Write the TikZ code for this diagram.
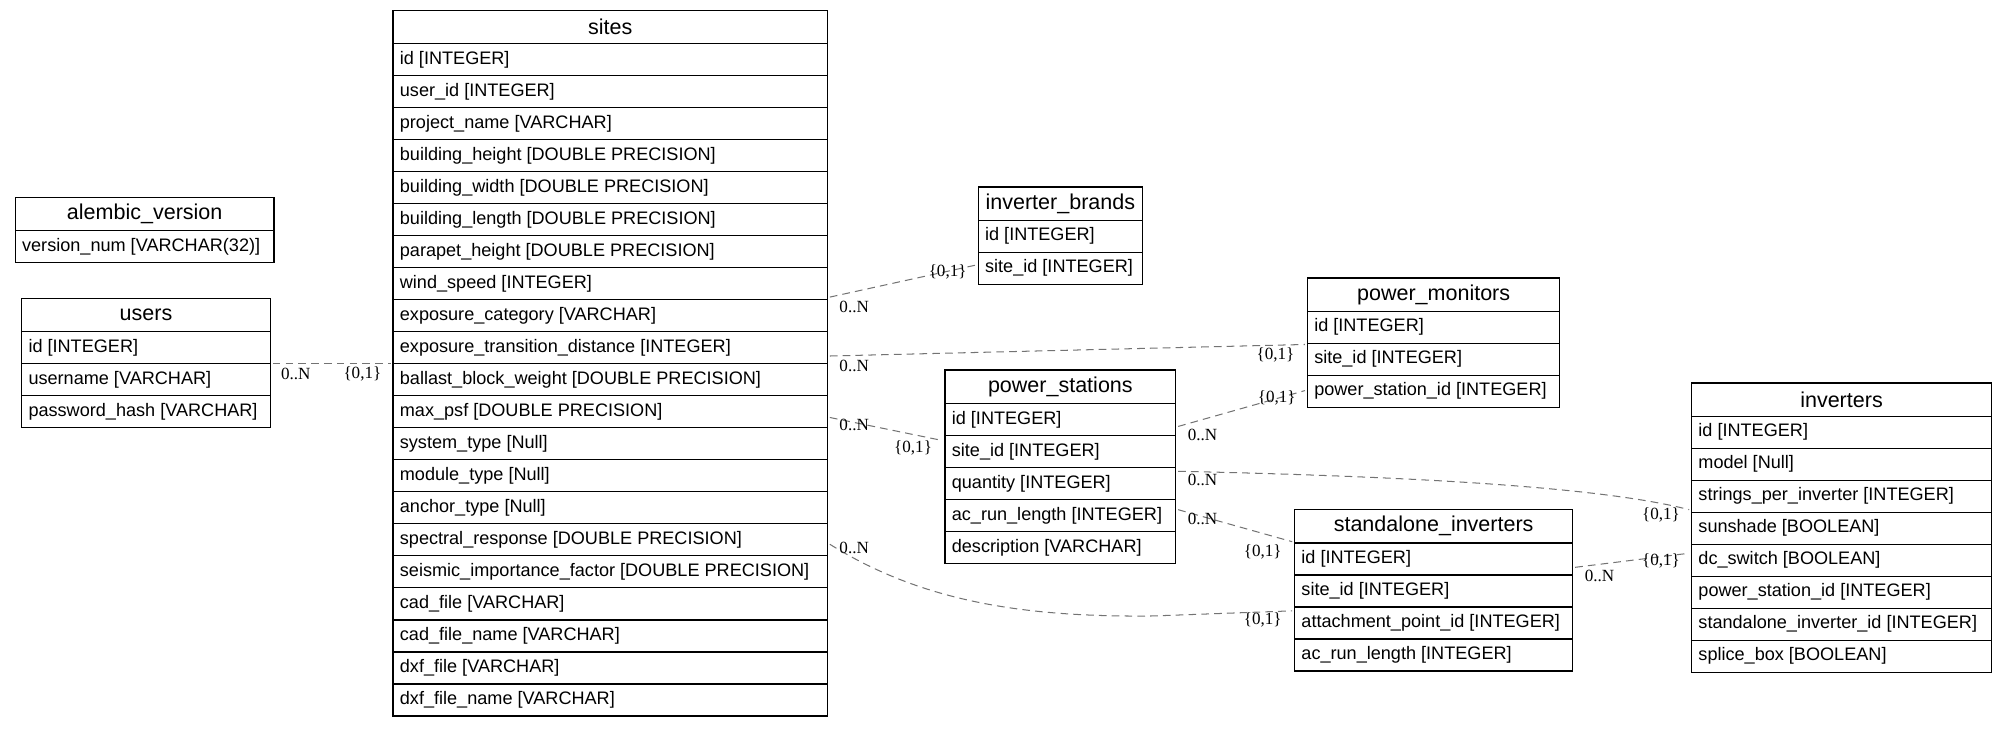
\documentclass[tikz,border=0pt]{standalone}
\usepackage{fontspec}
\setmainfont{Liberation Sans}
\newfontfamily\lblfont{Liberation Serif}
\begin{document}
\begin{tikzpicture}[x=0.75pt,y=-0.75pt,
  hdr/.style={inner sep=0pt,font=\fontsize{12.6}{14}\selectfont},
  row/.style={inner sep=0pt,anchor=west,font=\fontsize{10.6}{12}\selectfont},
  box/.style={draw=black,line width=0.8pt},
  rel/.style={draw=black!55,dash pattern=on 4.5pt off 3pt,line width=0.6pt},
  lbl/.style={inner sep=0pt,font=\lblfont\fontsize{10}{12}\selectfont}]
\useasboundingbox (0,0) rectangle (1568,568.5);
\newcommand\mytbl[6]{%
  \node[hdr] (#1) at ({(#2+#3)/2},{#4+13}) {#5};
  \draw[box] (#2,#4) rectangle (#3,#4+26);
  \foreach \r [count=\i] in {#6} {
    \draw[box] (#2,{#4+26+(\i-1)*25}) rectangle (#3,{#4+26+\i*25});
    \node[row] (#1-\i) at (#2+5,{#4+26+(\i-0.5)*25}) {\r};
  }%
}
\mytbl{alembic}{12}{214}{154}{alembic\_version}{version\_num [VARCHAR(32)]}
\mytbl{users}{17}{211}{233}{users}{id [INTEGER],username [VARCHAR],password\_hash [VARCHAR]}
\mytbl{sites}{307}{646}{8}{sites}{id [INTEGER],user\_id [INTEGER],project\_name [VARCHAR],building\_height [DOUBLE PRECISION],building\_width [DOUBLE PRECISION],building\_length [DOUBLE PRECISION],parapet\_height [DOUBLE PRECISION],wind\_speed [INTEGER],exposure\_category [VARCHAR],exposure\_transition\_distance [INTEGER],ballast\_block\_weight [DOUBLE PRECISION],max\_psf [DOUBLE PRECISION],system\_type [Null],module\_type [Null],anchor\_type [Null],spectral\_response [DOUBLE PRECISION],seismic\_importance\_factor [DOUBLE PRECISION],cad\_file [VARCHAR],cad\_file\_name [VARCHAR],dxf\_file [VARCHAR],dxf\_file\_name [VARCHAR]}
\mytbl{brands}{764}{892}{146}{inverter\_brands}{id [INTEGER],site\_id [INTEGER]}
\mytbl{monitors}{1021}{1218}{217}{power\_monitors}{id [INTEGER],site\_id [INTEGER],power\_station\_id [INTEGER]}
\mytbl{stations}{738}{918}{289}{power\_stations}{id [INTEGER],site\_id [INTEGER],quantity [INTEGER],ac\_run\_length [INTEGER],description [VARCHAR]}
\mytbl{standalone}{1011}{1228}{398}{standalone\_inverters}{id [INTEGER],site\_id [INTEGER],attachment\_point\_id [INTEGER],ac\_run\_length [INTEGER]}
\mytbl{inverters}{1321}{1555}{299}{inverters}{id [INTEGER],model [Null],strings\_per\_inverter [INTEGER],sunshade [BOOLEAN],dc\_switch [BOOLEAN],power\_station\_id [INTEGER],standalone\_inverter\_id [INTEGER],splice\_box [BOOLEAN]}
% endpoints
\coordinate (u1) at (213,284); \coordinate (s1) at (305,284);
\coordinate (s2) at (648,232); \coordinate (b2) at (762,207);
\coordinate (s3) at (648,278); \coordinate (m3) at (1019,269);
\coordinate (s4) at (648,326); \coordinate (p4) at (736,344);
\coordinate (s5) at (648,425); \coordinate (a5) at (1009,477);
\coordinate (p6) at (920,333); \coordinate (m6) at (1019,305);
\coordinate (p7) at (920,368); \coordinate (i7) at (1319,398);
\coordinate (p8) at (920,398); \coordinate (a8) at (1009,423);
\coordinate (a9) at (1230,443); \coordinate (i9) at (1319,432);
\draw[rel] (u1) -- (s1);
\draw[rel] (s2) -- (b2);
\draw[rel] (s3) -- (m3);
\draw[rel] (s4) -- (p4);
\draw[rel] (s5) .. controls (720,470) and (800,482) .. (900,481) -- (a5);
\draw[rel] (p6) -- (m6);
\draw[rel] (p7) .. controls (1100,372) and (1250,380) .. (i7);
\draw[rel] (p8) -- (a8);
\draw[rel] (a9) -- (i9);
\node[lbl] (l1a) at (231,292) {0..N}; \node[lbl] (l1b) at (283,292) {\{0,1\}};
\node[lbl] (l2a) at (667,240) {0..N}; \node[lbl] (l2b) at (740,212) {\{0,1\}};
\node[lbl] (l3a) at (667,286) {0..N}; \node[lbl] (l3b) at (996,277) {\{0,1\}};
\node[lbl] (l4a) at (667,332) {0..N}; \node[lbl] (l4b) at (713,350) {\{0,1\}};
\node[lbl] (l5a) at (667,428) {0..N}; \node[lbl] (l5b) at (986,484) {\{0,1\}};
\node[lbl] (l6a) at (939,340) {0..N}; \node[lbl] (l6b) at (997,311) {\{0,1\}};
\node[lbl] (l7a) at (939,375) {0..N}; \node[lbl] (l7b) at (1297,402) {\{0,1\}};
\node[lbl] (l8a) at (939,405) {0..N}; \node[lbl] (l8b) at (986,431) {\{0,1\}};
\node[lbl] (l9a) at (1249,450) {0..N}; \node[lbl] (l9b) at (1297,438) {\{0,1\}};
\end{tikzpicture}
\end{document}
